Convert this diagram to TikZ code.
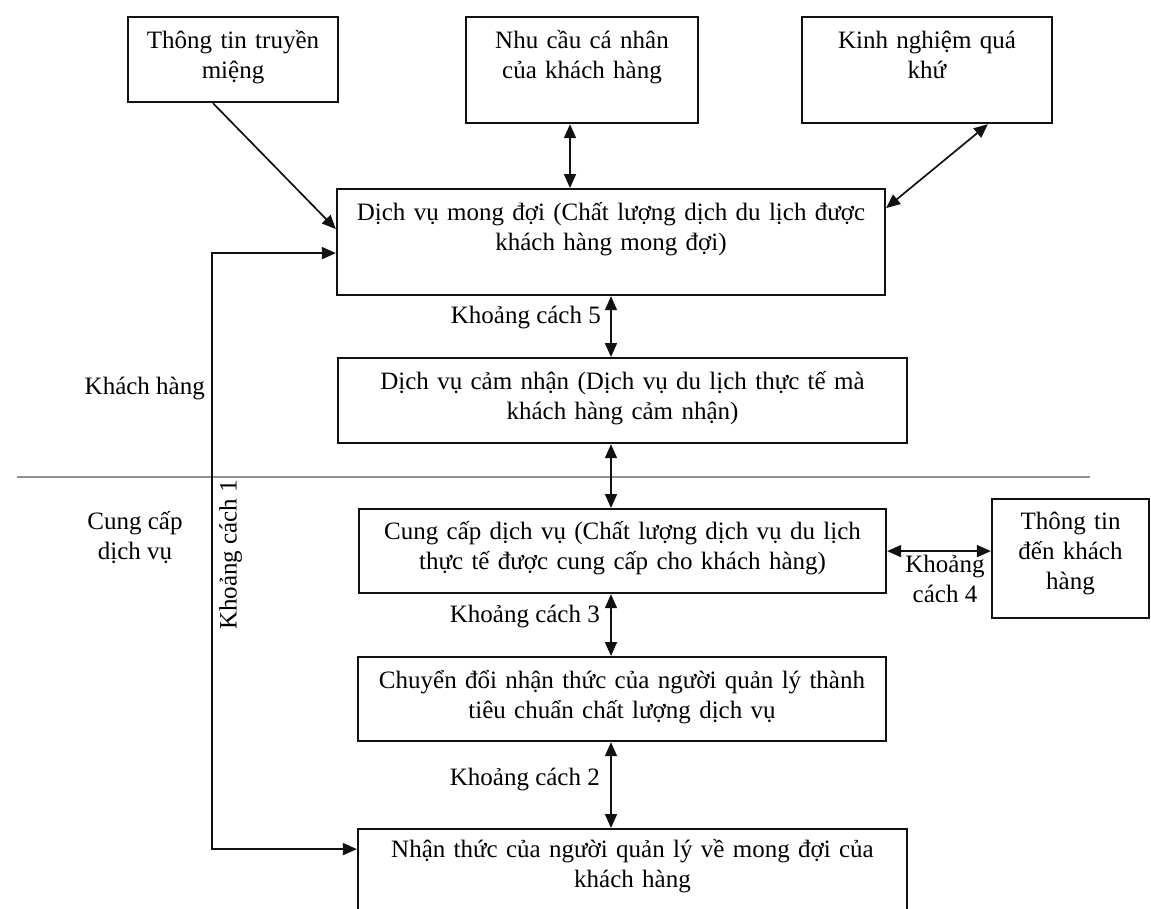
\documentclass[tikz,border=0pt]{standalone}
\usepackage{fontspec}
\setmainfont{Liberation Serif}
\usepackage{xcolor}
\usepackage{tikz}
\usetikzlibrary{arrows.meta}
\definecolor{gapink}{HTML}{111111}
\definecolor{gapgray}{HTML}{8F8F8F}

\begin{document}
\begin{tikzpicture}[
  x=1pt,y=-1pt,
  font=\fontsize{25pt}{30pt}\selectfont,
  gbox/.style 2 args={draw=gapink,line width=2.2pt,inner sep=0pt,anchor=north,align=center,text width=#1,text height=31pt,text depth=#2},
  arrow/.style={-{Triangle[length=14pt,width=12pt]},line width=1.7pt,draw=gapink},
  dbl/.style={{Triangle[length=14pt,width=12pt]}-{Triangle[length=14pt,width=12pt]},line width=1.7pt,draw=gapink},
  divider/.style={draw=gapgray,line width=2.5pt}
]
\path[use as bounding box,clip] (0,0) rectangle (1151,908);
\node[gbox={210pt}{54pt}] (mieng) at (233,16) {Thông tin truyền\\miệng};
\node[gbox={232pt}{75pt}] (nhucau) at (582,16) {Nhu cầu cá nhân\\của khách hàng};
\node[gbox={250pt}{75pt}] (kinhnghiem) at (927,16) {Kinh nghiệm quá\\khứ};
\node[gbox={548pt}{75pt}] (mongdoi) at (611,188) {Dịch vụ mong đợi (Chất lượng dịch du lịch được\\khách hàng mong đợi)};
\node[gbox={569pt}{54pt}] (camnhan) at (622.5,357) {Dịch vụ cảm nhận (Dịch vụ du lịch thực tế mà\\khách hàng cảm nhận)};
\node[gbox={527pt}{54pt},text height=30pt] (cungcap) at (622.5,508) {Cung cấp dịch vụ (Chất lượng dịch vụ du lịch\\thực tế được cung cấp cho khách hàng)};
\node[gbox={528pt}{53pt}] (chuyendoi) at (622,656) {Chuyển đổi nhận thức của người quản lý thành\\tiêu chuẩn chất lượng dịch vụ};
\node[gbox={549pt}{102pt},text height=28pt] (nhanthuc) at (632.5,828) {Nhận thức của người quản lý về mong đợi của\\khách hàng};
\node[gbox={157pt}{89pt},text height=30pt] (thongtinden) at (1070.5,498) {Thông tin\\đến khách\\hàng};

\draw[divider] (17,477) -- (1090,477);
\node[anchor=east,inner sep=2pt] (khach) at (207,388) {Khách hàng};
\node[align=center] (cungcapdv) at (135,538) {Cung cấp\\dịch vụ};
\coordinate (fb) at (212,555);
\node[rotate=90,anchor=north,inner sep=3pt] (kc1) at ([xshift=4pt]fb) {Khoảng cách 1};

\draw[arrow] ([xshift=-20pt]mieng.south) -- ([yshift=13pt]mongdoi.west);
\draw[dbl] ([xshift=-12pt]nhucau.south) -- ([xshift=-12pt]nhucau.south |- mongdoi.north);
\draw[dbl] ([xshift=61pt]kinhnghiem.south) -- ([yshift=34pt]mongdoi.east);
\draw[dbl] (mongdoi.south) -- (camnhan.north -| mongdoi.south) node[pos=0.35,left=6pt] (kc5) {Khoảng cách 5};
\draw[dbl] (camnhan.south -| mongdoi.south) -- (cungcap.north -| mongdoi.south);
\draw[dbl] (cungcap.south -| mongdoi.south) -- (chuyendoi.north -| mongdoi.south) node[pos=0.36,left=7pt] (kc3) {Khoảng cách 3};
\draw[dbl] (chuyendoi.south -| mongdoi.south) -- (nhanthuc.north -| mongdoi.south) node[pos=0.43,left=7pt] (kc2) {Khoảng cách 2};
\draw[dbl] (cungcap.east) -- (cungcap.east -| thongtinden.west) node[midway,below,align=center,xshift=6pt] (kc4) {Khoảng\\cách 4};
\draw[dbl] ([yshift=-11pt]mongdoi.west) -| (fb) |- ([yshift=45pt]nhanthuc.west);
\end{tikzpicture}
\end{document}
